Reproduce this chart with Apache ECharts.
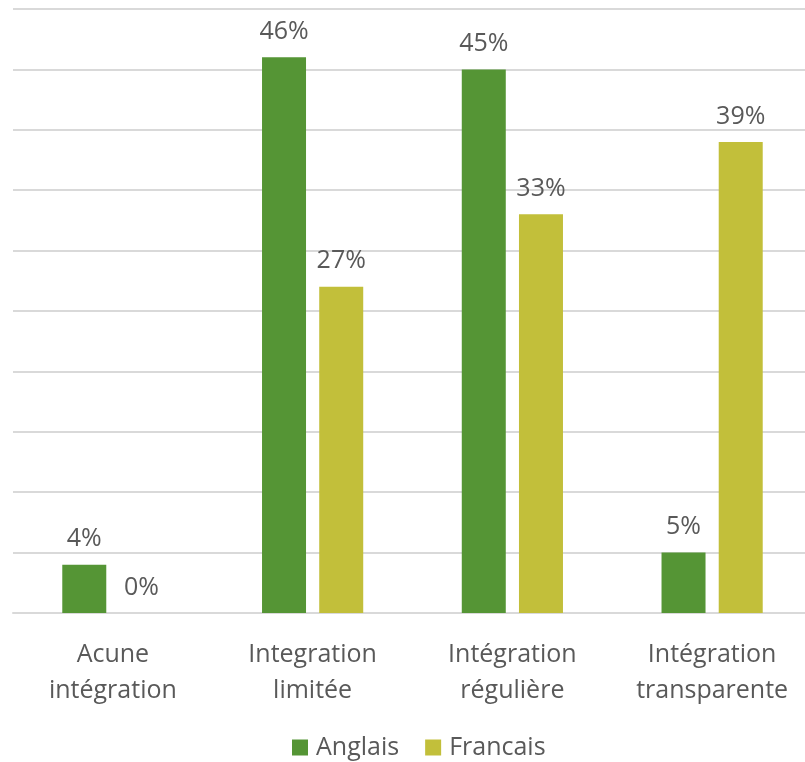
<!DOCTYPE html>
<html><head><meta charset="utf-8">
<script src="https://cdn.jsdelivr.net/npm/echarts@6/dist/echarts.min.js"></script>
<style>html,body{margin:0;padding:0;background:#fff;overflow:hidden}#c{width:830px;height:762px}</style>
</head><body><div id="c"></div>
<script>
const categories = ['Acune\nintégration', 'Integration\nlimitée', 'Intégration\nrégulière', 'Intégration\ntransparente'];
const anglais = [4, 46, 45, 5];
const francais = [0, 27, 33, 39];
const seriesNames = ['Anglais', 'Francais'];
const FONT = '"Open Sans", "Noto Sans", sans-serif';
const chart = echarts.init(document.getElementById('c'), null, {renderer: 'canvas'});
const lbl = {show: true, position: 'top', distance: 13, formatter: '{c}%', color: '#595959', fontSize: 25, fontFamily: FONT};
chart.setOption({
  animation: false,
  grid: {left: 13, width: 799, top: 9, bottom: 149, containLabel: false},
  legend: {
    top: 730, left: 287, itemWidth: 16, itemHeight: 16, itemGap: 26,
    icon: 'rect',
    textStyle: {color: '#595959', fontSize: 25, fontFamily: FONT, padding: [0, 0, 0, 3]},
    data: seriesNames
  },
  xAxis: {
    type: 'category', data: categories,
    axisLine: {show: true, lineStyle: {color: '#d9d9d9', width: 2}},
    axisTick: {show: false},
    axisLabel: {color: '#595959', fontSize: 25, fontFamily: FONT, margin: 24, lineHeight: 36, interval: 0}
  },
  yAxis: {
    type: 'value', min: 0, max: 50, interval: 5,
    axisLabel: {show: false}, axisLine: {show: false}, axisTick: {show: false},
    splitLine: {show: true, lineStyle: {color: '#d9d9d9', width: 2}}
  },
  series: [
    {name: seriesNames[0], type: 'bar', data: anglais, barWidth: 44, barGap: '30%', itemStyle: {color: '#559535'}, label: lbl},
    {name: seriesNames[1], type: 'bar', data: francais, barWidth: 44, itemStyle: {color: '#c2bf3a'}, label: lbl}
  ]
});
</script></body></html>
